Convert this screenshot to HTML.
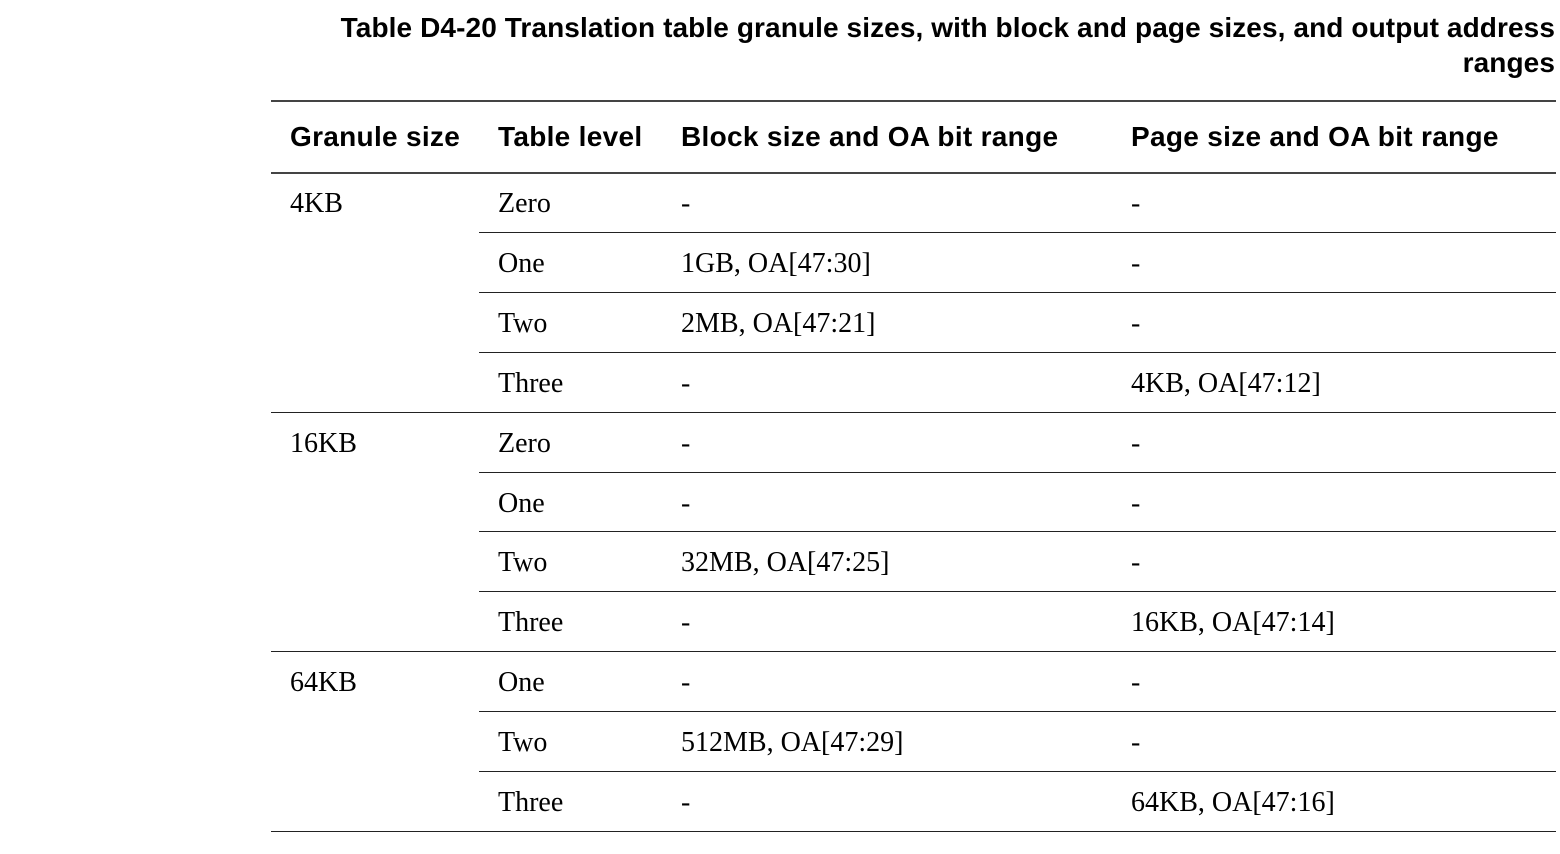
<!DOCTYPE html>
<html><head><style>
body{margin:0;width:1560px;height:854px;background:#fff;position:relative;overflow:hidden}
.t{position:absolute;right:5px;text-align:right;font:bold 28px "Liberation Sans",sans-serif;line-height:35px;top:10px;color:#000;letter-spacing:0.1px}
.h{position:absolute;font:bold 28px "Liberation Sans",sans-serif;top:121px;color:#000;white-space:nowrap;letter-spacing:0.3px}
.c{position:absolute;font:28px "Liberation Serif",serif;color:#000;white-space:nowrap}
.l{position:absolute;height:1px;background:#222}
.thick{height:2px;background:#444}
</style></head><body>
<div class="t">Table D4-20 Translation table granule sizes, with block and page sizes, and output address<br>ranges</div>
<div class="l thick" style="left:271px;width:1285px;top:100px"></div>
<div class="l thick" style="left:271px;width:1285px;top:172px"></div>
<div class="h" style="left:290px">Granule size</div>
<div class="h" style="left:498px">Table level</div>
<div class="h" style="left:681px">Block size and OA bit range</div>
<div class="h" style="left:1131px">Page size and OA bit range</div>
<div id="rows"></div>
<script>
var rows=[["4KB","Zero","-","-"],["","One","1GB, OA[47:30]","-"],["","Two","2MB, OA[47:21]","-"],["","Three","-","4KB, OA[47:12]"],
["16KB","Zero","-","-"],["","One","-","-"],["","Two","32MB, OA[47:25]","-"],["","Three","-","16KB, OA[47:14]"],
["64KB","One","-","-"],["","Two","512MB, OA[47:29]","-"],["","Three","-","64KB, OA[47:16]"]];
var h="",xs=[290,498,681,1131];
rows.forEach(function(r,i){var top=173+i*59.9;
r.forEach(function(t,j){if(t)h+='<div class="c" style="left:'+xs[j]+'px;top:'+(top+15)+'px">'+t+'</div>';});
var ly=Math.round(top+59.9)-1;var full=(i==3||i==7||i==10);
h+='<div class="l" style="left:'+(full?271:479)+'px;width:'+(full?1285:1077)+'px;top:'+ly+'px"></div>';});
document.getElementById("rows").innerHTML=h;
</script>
</body></html>
